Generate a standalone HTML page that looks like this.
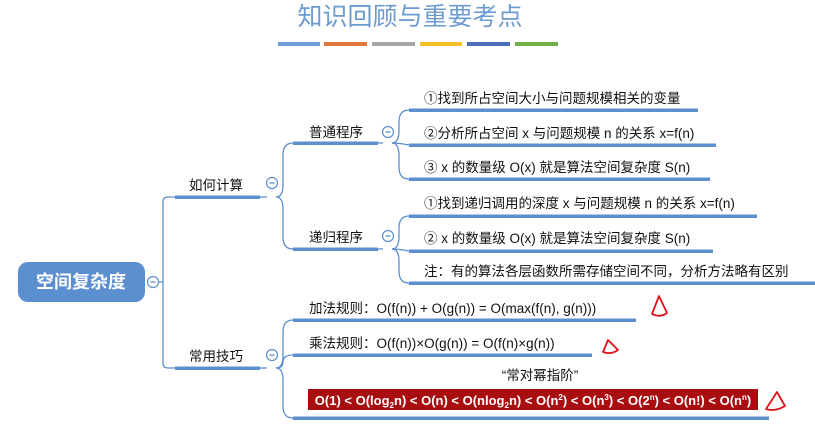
<!DOCTYPE html>
<html><head><meta charset="utf-8"><style>
body{margin:0;background:#fff;}
svg{display:block;font-family:"Liberation Sans","Noto Sans CJK SC",sans-serif;}
</style></head><body>
<svg width="815" height="434" viewBox="0 0 815 434" xmlns="http://www.w3.org/2000/svg">
<text x="410" y="25" text-anchor="middle" font-size="25" fill="#6b9bd1" font-family="Noto Sans CJK SC,sans-serif">知识回顾与重要考点</text>
<g>
<rect x="278" y="42" width="42" height="4" fill="#6a9ed4"/>
<rect x="324" y="42" width="43" height="4" fill="#e0783e"/>
<rect x="372" y="42" width="43" height="4" fill="#a5a5a5"/>
<rect x="420" y="42" width="42" height="4" fill="#f6c02b"/>
<rect x="467" y="42" width="43" height="4" fill="#4a70b8"/>
<rect x="515" y="42" width="43" height="4" fill="#72b14a"/>
</g>
<g fill="none" stroke="#5d8fcf" stroke-width="1.3">
<path d="M158 282 H163"/>
<path d="M175 197 H168 Q163 197 163 202 V363 Q163 368 168 368 H175"/>
<path d="M276 197 Q283 197 283 185 V155 Q283 143 293 143"/>
<path d="M276 197 Q283 197 283 209 V237 Q283 249 293 249"/>
<path d="M260 197 H267"/>
<path d="M392 143 Q399 143 399 130 V122 Q399 110 409 110"/>
<path d="M392 143 Q399 143 409 145"/>
<path d="M392 143 Q399 143 399 156 V167 Q399 179 409 179"/>
<path d="M378 143 H383"/>
<path d="M392 249 Q399 249 399 236 V228 Q399 216 409 216"/>
<path d="M392 249 Q399 249 409 251"/>
<path d="M392 249 Q399 249 399 262 V271 Q399 283 409 283"/>
<path d="M378 249 H383"/>
<path d="M260 368 H267"/>
<path d="M276 368 Q283 368 283 356 V332 Q283 320 293 320"/>
<path d="M276 368 Q283 368 283 362 Q283 355 293 355"/>
<path d="M276 368 Q283 368 283 380 V406 Q283 418 293 418"/>
</g>
<g fill="#5d8fcf">
<rect x="175" y="195.5" width="85" height="3.5"/>
<rect x="175" y="366.5" width="85" height="3.5"/>
<rect x="293" y="141.5" width="85" height="3.5"/>
<rect x="293" y="247.5" width="85" height="3.5"/>
<rect x="409" y="108.5" width="289" height="3.5"/>
<rect x="409" y="143.5" width="307" height="3.5"/>
<rect x="409" y="177.5" width="301" height="3.5"/>
<rect x="409" y="214.5" width="348" height="3.5"/>
<rect x="409" y="249.5" width="304" height="3.5"/>
<rect x="409" y="281.5" width="406" height="3.5"/>
<rect x="293" y="318.5" width="343" height="3.5"/>
<rect x="293" y="353.5" width="299" height="3.5"/>
<rect x="293" y="416.5" width="476" height="3.5"/>
</g>
<g fill="#fff" stroke="#5d8fcf" stroke-width="1.2">
<circle cx="153" cy="282" r="5.5"/>
<circle cx="272" cy="183" r="5.5"/>
<circle cx="272" cy="355" r="5.5"/>
<circle cx="388" cy="132" r="5.5"/>
<circle cx="388" cy="236" r="5.5"/>
</g>
<g stroke="#5d8fcf" stroke-width="1.2">
<path d="M150.5 282h5M269.5 183h5M269.5 355h5M385.5 132h5M385.5 236h5"/>
</g>
<rect x="18" y="262" width="127" height="40" rx="10" fill="#5b8fd0"/>
<text x="81" y="288" text-anchor="middle" font-size="18" font-weight="bold" fill="#fff">空间复杂度</text>
<g font-size="13.5" fill="#111">
<text x="189" y="190">如何计算</text>
<text x="189" y="361">常用技巧</text>
<text x="309" y="137">普通程序</text>
<text x="309" y="242">递归程序</text>
<text x="424" y="103">①找到所占空间大小与问题规模相关的变量</text>
<text x="424" y="138">②分析所占空间 x 与问题规模 n 的关系 x=f(n)</text>
<text x="424" y="172">③ x 的数量级 O(x) 就是算法空间复杂度 S(n)</text>
<text x="424" y="208">①找到递归调用的深度 x 与问题规模 n 的关系 x=f(n)</text>
<text x="424" y="243">②  x 的数量级 O(x) 就是算法空间复杂度 S(n)</text>
<text x="424" y="276">注：有的算法各层函数所需存储空间不同，分析方法略有区别</text>
<text x="309" y="313">加法规则：O(f(n)) + O(g(n)) = O(max(f(n), g(n)))</text>
<text x="309" y="348">乘法规则：O(f(n))×O(g(n)) = O(f(n)×g(n))</text>
<text x="540" y="380" text-anchor="middle">“常对幂指阶”</text>
</g>
<rect x="308" y="389" width="450" height="21" fill="#a80d10"/>
<text x="533" y="405" text-anchor="middle" font-size="13" font-weight="bold" fill="#fff">O(1) &lt; O(log<tspan font-size="8" dy="3">2</tspan><tspan dy="-3">n) &lt; O(n) &lt; O(nlog</tspan><tspan font-size="8" dy="3">2</tspan><tspan dy="-3">n) &lt; O(n</tspan><tspan font-size="8" dy="-5">2</tspan><tspan dy="5">) &lt; O(n</tspan><tspan font-size="8" dy="-5">3</tspan><tspan dy="5">) &lt; O(2</tspan><tspan font-size="8" dy="-5">n</tspan><tspan dy="5">) &lt; O(n!) &lt; O(n</tspan><tspan font-size="8" dy="-5">n</tspan><tspan dy="5">)</tspan></text>
<g fill="none" stroke="#e0101a" stroke-width="1.8" stroke-linejoin="round">
<path d="M659 296 L652 314 Q660 318 667 313 Z"/>
<path d="M608 340 L603 352 Q611 355 618 350 Z"/>
<path d="M777 392 L766 409 Q775 412 785 406 Z"/>
</g>
</svg>
</body></html>
